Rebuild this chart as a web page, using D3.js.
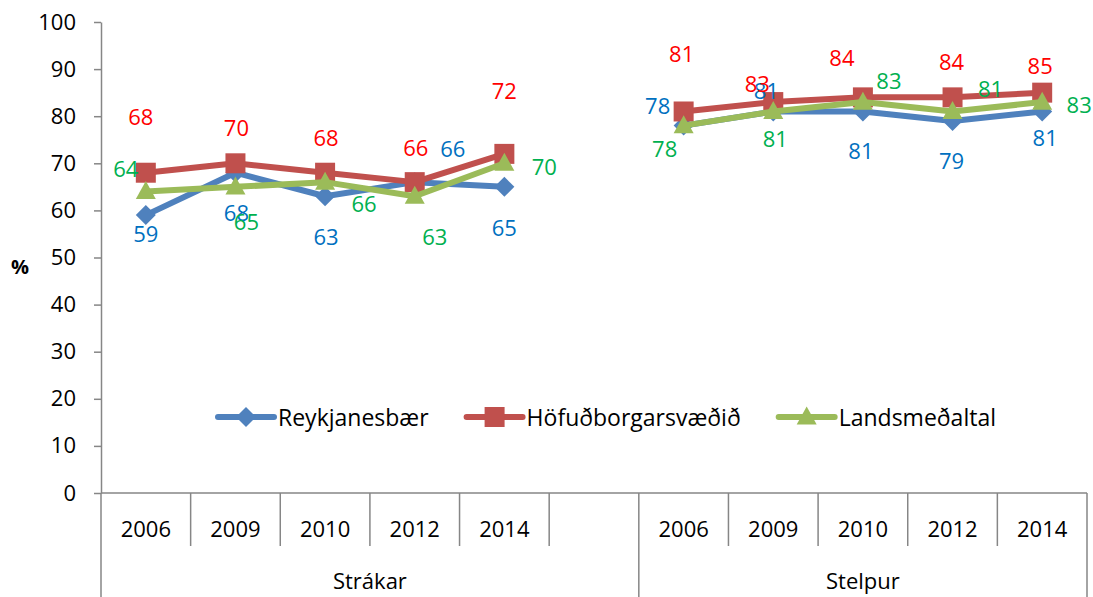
<!DOCTYPE html>
<html>
<head>
<meta charset="utf-8">
<script src="https://cdn.jsdelivr.net/npm/d3@7"></script>
<style>
  html, body { margin: 0; padding: 0; background: #fff; }
  svg { display: block; font-family: "Open Sans", "Liberation Sans", sans-serif; }
</style>
</head>
<body>
<svg id="chart" width="1093" height="597"></svg>
<script>
// Categories: two groups of survey years, with an empty slot between them
const groups = ["Strákar", "Stelpur"];
const years = ["2006", "2009", "2010", "2012", "2014"];
const seriesNames = ["Reykjanesbær", "Höfuðborgarsvæðið", "Landsmeðaltal"];

// Values (%), Strákar years followed by Stelpur years
const reykjanesbaer      = [59, 68, 63, 66, 65, 78, 81, 81, 79, 81];
const hofudborgarsvaedid = [68, 70, 68, 66, 72, 81, 83, 84, 84, 85];
const landsmedaltal      = [64, 65, 66, 63, 70, 78, 81, 83, 81, 83];

const yTicks = [0, 10, 20, 30, 40, 50, 60, 70, 80, 90, 100];

// Label nudges relative to each point [dx, dy]
const reykOffsets = [[0, 18], [1, 39], [1, 40], [38, -34], [0, 40],
                     [-26, -21], [-7, -21], [-2, 39], [-1, 39], [3, 26]];
const hofOffsets  = [[-5, -57], [1, -36], [1, -36], [1, -35], [0, -64],
                     [-2, -58], [-16, -19], [-21, -40], [-1, -36], [-2, -28]];
const landOffsets = [[-20, -24], [11, 34], [39, 21], [20, 40], [40, 3],
                     [-19, 22], [2, 27], [26, -22], [38, -23], [37, 2]];

const svg = d3.select("#chart");
const axisColor = "#868686";

// Band keys: group|year, plus a blank slot after the first group
const keys = [];
groups.forEach((g, gi) => {
  years.forEach(y => keys.push(g + "|" + y));
  if (gi === 0) keys.push("blank");
});
const pointKeys = keys.filter(k => k !== "blank");

const x = d3.scaleBand().domain(keys).range([101, 1087]).padding(0);
const y = d3.scaleLinear().domain([0, 100]).range([493, 22]);
const cx = k => x(k) + x.bandwidth() / 2;

// Y axis
const yAxis = svg.append("g")
  .attr("transform", "translate(101,0)")
  .call(d3.axisLeft(y).tickValues(yTicks).tickSize(7).tickSizeOuter(0).tickPadding(18));
yAxis.select(".domain").attr("stroke", axisColor).attr("stroke-width", 1.5);
yAxis.selectAll(".tick line").attr("stroke", axisColor).attr("stroke-width", 1.5);
yAxis.selectAll(".tick text")
  .attr("fill", "#000").attr("font-size", 22)
  .attr("font-family", "'Open Sans', sans-serif");

svg.append("text")
  .attr("x", 20).attr("y", 266)
  .attr("text-anchor", "middle").attr("dominant-baseline", "central")
  .attr("font-size", 20).attr("font-weight", "bold")
  .text("%");

// Multi-level category axis
const xAxis = svg.append("g");
const baseY = y(0);
xAxis.append("line")
  .attr("x1", x.range()[0]).attr("x2", x.range()[1])
  .attr("y1", baseY).attr("y2", baseY)
  .attr("stroke", axisColor).attr("stroke-width", 1.5);

const groupStarts = [keys[0], keys[years.length + 1]];
keys.forEach(k => {
  const isGroupEdge = groupStarts.includes(k);
  xAxis.append("line")
    .attr("x1", x(k)).attr("x2", x(k))
    .attr("y1", baseY).attr("y2", isGroupEdge ? 597 : 546)
    .attr("stroke", axisColor).attr("stroke-width", 1.5);
});
xAxis.append("line")
  .attr("x1", x.range()[1]).attr("x2", x.range()[1])
  .attr("y1", baseY).attr("y2", 597)
  .attr("stroke", axisColor).attr("stroke-width", 1.5);

pointKeys.forEach(k => {
  xAxis.append("text")
    .attr("x", cx(k)).attr("y", 528)
    .attr("text-anchor", "middle").attr("dominant-baseline", "central")
    .attr("font-size", 22)
    .text(k.split("|")[1]);
});

groups.forEach((g, gi) => {
  const first = g + "|" + years[0];
  const end = gi === 0 ? x("blank") + x.bandwidth() : x.range()[1];
  xAxis.append("text")
    .attr("x", (x(first) + end) / 2).attr("y", 580)
    .attr("text-anchor", "middle").attr("dominant-baseline", "central")
    .attr("font-size", 22)
    .text(g);
});

// Marker shapes
function markerPath(shape, px, py) {
  if (shape === "diamond") {
    const r = 10;
    return `M${px},${py - r}L${px + r},${py}L${px},${py + r}L${px - r},${py}Z`;
  }
  if (shape === "square") {
    const r = 10;
    return `M${px - r},${py - r}h${2 * r}v${2 * r}h${-2 * r}Z`;
  }
  const w = 10, h = 18;
  return `M${px},${py - h * 0.58}L${px + w},${py + h * 0.42}L${px - w},${py + h * 0.42}Z`;
}

const series = [
  { name: seriesNames[0], values: reykjanesbaer, offsets: reykOffsets,
    color: "#4F81BD", labelColor: "#0070C0", shape: "diamond" },
  { name: seriesNames[1], values: hofudborgarsvaedid, offsets: hofOffsets,
    color: "#C0504D", labelColor: "#FF0000", shape: "square" },
  { name: seriesNames[2], values: landsmedaltal, offsets: landOffsets,
    color: "#9BBB59", labelColor: "#00B050", shape: "triangle" }
];

const line = d3.line().x(d => cx(d.key)).y(d => y(d.value));

series.forEach(s => {
  const pts = pointKeys.map((k, i) => ({ key: k, value: s.values[i] }));
  const g = svg.append("g");
  groups.forEach(grp => {
    const seg = pts.filter(p => p.key.startsWith(grp + "|"));
    g.append("path")
      .attr("d", line(seg))
      .attr("fill", "none")
      .attr("stroke", s.color)
      .attr("stroke-width", 6)
      .attr("stroke-linejoin", "round")
      .attr("stroke-linecap", "round");
  });
  pts.forEach(p => {
    g.append("path")
      .attr("d", markerPath(s.shape, cx(p.key), y(p.value)))
      .attr("fill", s.color);
  });
});

// Data labels on top of all lines
series.forEach(s => {
  pointKeys.forEach((k, i) => {
    svg.append("text")
      .attr("x", cx(k) + s.offsets[i][0])
      .attr("y", y(s.values[i]) + s.offsets[i][1])
      .attr("text-anchor", "middle").attr("dominant-baseline", "central")
      .attr("font-size", 22)
      .attr("fill", s.labelColor)
      .text(s.values[i]);
  });
});

// Legend
const legend = svg.append("g");
let lx = 218;
const ly = 417;
series.forEach(s => {
  const item = legend.append("g");
  item.append("line")
    .attr("x1", lx).attr("x2", lx + 56)
    .attr("y1", ly).attr("y2", ly)
    .attr("stroke", s.color).attr("stroke-width", 6)
    .attr("stroke-linecap", "round");
  item.append("path")
    .attr("d", markerPath(s.shape, lx + 28, ly))
    .attr("fill", s.color);
  const t = item.append("text")
    .attr("x", lx + 60).attr("y", ly)
    .attr("dominant-baseline", "central")
    .attr("font-size", 23)
    .text(s.name);
  lx += 60 + t.node().getComputedTextLength() + 38;
});
</script>
</body>
</html>
